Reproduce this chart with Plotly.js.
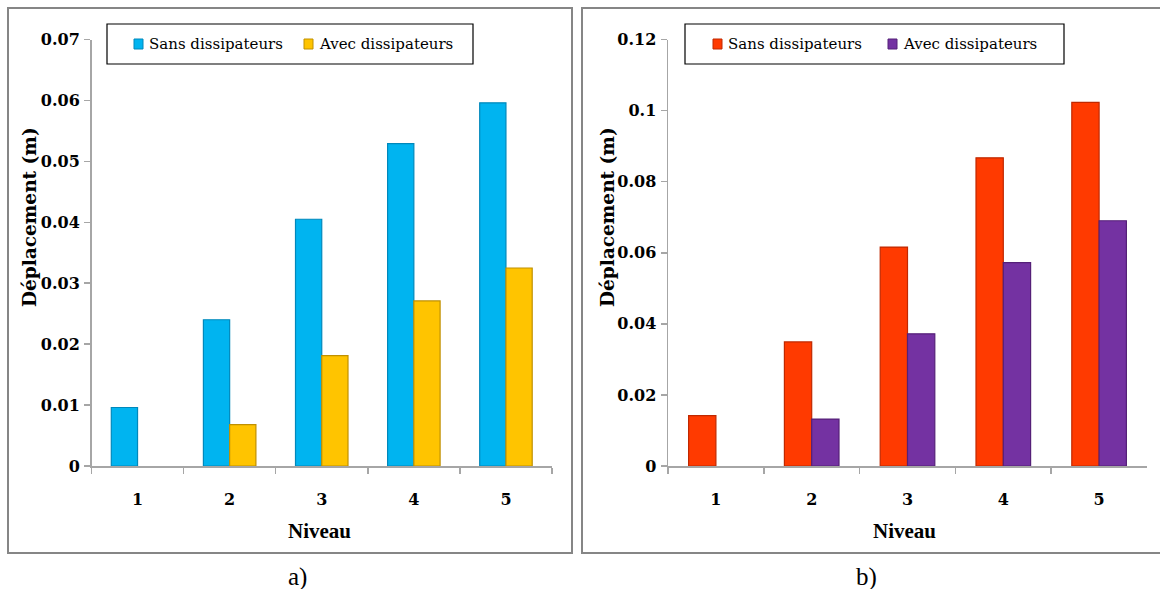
<!DOCTYPE html>
<html>
<head>
<meta charset="utf-8">
<script src="https://cdn.plot.ly/plotly-3.0.1.min.js"></script>
<style>html,body{margin:0;padding:0;background:#fff;}#chart{width:1160px;height:589px;}</style>
</head>
<body>
<div id="chart"></div>
<script>
const niveaux = ["1", "2", "3", "4", "5"];
const seriesNames = ["Sans dissipateurs", "Avec dissipateurs"];
const sansA = [0.0096, 0.0240, 0.0405, 0.0529, 0.0596];
const avecA = [null, 0.0068, 0.0181, 0.0271, 0.0325];
const sansB = [0.0142, 0.0349, 0.0616, 0.0867, 0.1023];
const avecB = [null, 0.0132, 0.0372, 0.0572, 0.0690];
const yTitle = "Déplacement (m)";
const xTitle = "Niveau";
const captions = ["a)", "b)"];

const W = 1160, H = 589;
const px = v => v / W;
const py = v => 1 - v / H;

const serif = "Liberation Serif";
const wideSerif = "DejaVu Serif";

function bar(x, y, name, color, edge, xa, ya) {
  return {
    type: "bar", x: x, y: y, name: name, xaxis: xa, yaxis: ya,
    marker: {color: color, line: {color: edge, width: 1.2}},
    showlegend: false, hoverinfo: "x+y"
  };
}

const traces = [
  bar(niveaux, sansA, seriesNames[0], "#00B4F0", "#0088BB", "x", "y"),
  bar(niveaux, avecA, seriesNames[1], "#FFC400", "#C09000", "x", "y"),
  bar(niveaux, sansB, seriesNames[0], "#FF3A00", "#C02800", "x2", "y2"),
  bar(niveaux, avecB, seriesNames[1], "#7432A2", "#552078", "x2", "y2")
];

const tickFont = {family: wideSerif, size: 16, color: "#000", weight: "bold"};

const xCommon = {
  type: "category", showline: true, linecolor: "#A6A6A6", linewidth: 1.5,
  ticks: "outside", tickson: "boundaries", ticklen: 6, tickcolor: "#A6A6A6", tickwidth: 1.5,
  showgrid: false, zeroline: false,
  tickfont: tickFont, ticklabelstandoff: 18
};
const yCommon = {
  showline: true, linecolor: "#A6A6A6", linewidth: 1.5,
  ticks: "outside", ticklen: 6, tickcolor: "#A6A6A6", tickwidth: 1.5,
  showgrid: false, zeroline: false,
  tickfont: tickFont, ticklabelstandoff: 1
};

const legendFont = {family: wideSerif, size: 15, color: "#000"};

const layout = {
  width: W, height: H, margin: {l: 0, r: 0, t: 0, b: 0},
  paper_bgcolor: "#fff", plot_bgcolor: "#fff",
  barmode: "group", bargap: 0.43, bargroupgap: 0,
  font: {family: serif, color: "#000"},
  xaxis: Object.assign({}, xCommon, {domain: [px(91.5), px(552)], anchor: "y"}),
  yaxis: Object.assign({}, yCommon, {domain: [py(466), py(39.5)], anchor: "x", range: [0, 0.07], dtick: 0.01}),
  xaxis2: Object.assign({}, xCommon, {domain: [px(668), px(1147)], anchor: "y2"}),
  yaxis2: Object.assign({}, yCommon, {domain: [py(466), py(39.5)], anchor: "x2", range: [0, 0.12], dtick: 0.02}),
  shapes: [
    {type: "rect", xref: "paper", yref: "paper", x0: px(8), x1: px(572), y0: py(553), y1: py(8),
     line: {color: "#868686", width: 2}},
    {type: "rect", xref: "paper", yref: "paper", x0: px(582), x1: px(1166), y0: py(553), y1: py(8),
     line: {color: "#868686", width: 2}},
    {type: "rect", xref: "paper", yref: "paper", x0: px(107), x1: px(473), y0: py(64), y1: py(24),
     line: {color: "#000", width: 1.2}, fillcolor: "#fff"},
    {type: "rect", xref: "paper", yref: "paper", x0: px(685), x1: px(1064), y0: py(64), y1: py(24),
     line: {color: "#000", width: 1.2}, fillcolor: "#fff"},
    {type: "rect", xref: "paper", yref: "paper", x0: px(134), x1: px(143), y0: py(49), y1: py(39),
     fillcolor: "#00B4F0", line: {color: "#0088BB", width: 1}},
    {type: "rect", xref: "paper", yref: "paper", x0: px(304), x1: px(313), y0: py(49), y1: py(39),
     fillcolor: "#FFC400", line: {color: "#C09000", width: 1}},
    {type: "rect", xref: "paper", yref: "paper", x0: px(713), x1: px(722), y0: py(49), y1: py(39),
     fillcolor: "#FF3A00", line: {color: "#C02800", width: 1}},
    {type: "rect", xref: "paper", yref: "paper", x0: px(888), x1: px(897), y0: py(49), y1: py(39),
     fillcolor: "#7432A2", line: {color: "#552078", width: 1}}
  ],
  annotations: [
    {xref: "paper", yref: "paper", x: px(147), y: py(44), xanchor: "left", yanchor: "middle", showarrow: false,
     text: seriesNames[0], font: legendFont},
    {xref: "paper", yref: "paper", x: px(317), y: py(44), xanchor: "left", yanchor: "middle", showarrow: false,
     text: seriesNames[1], font: legendFont},
    {xref: "paper", yref: "paper", x: px(726), y: py(44), xanchor: "left", yanchor: "middle", showarrow: false,
     text: seriesNames[0], font: legendFont},
    {xref: "paper", yref: "paper", x: px(901), y: py(44), xanchor: "left", yanchor: "middle", showarrow: false,
     text: seriesNames[1], font: legendFont},
    {xref: "paper", yref: "paper", x: px(29), y: py(217), xanchor: "center", yanchor: "middle", showarrow: false,
     textangle: -90, text: "<b>" + yTitle + "</b>", font: {family: wideSerif, size: 18.5, color: "#000"}},
    {xref: "paper", yref: "paper", x: px(607), y: py(217), xanchor: "center", yanchor: "middle", showarrow: false,
     textangle: -90, text: "<b>" + yTitle + "</b>", font: {family: wideSerif, size: 18.5, color: "#000"}},
    {xref: "paper", yref: "paper", x: px(319), y: py(531), xanchor: "center", yanchor: "middle", showarrow: false,
     text: "<b>" + xTitle + "</b>", font: {family: serif, size: 21, color: "#000"}},
    {xref: "paper", yref: "paper", x: px(904), y: py(531), xanchor: "center", yanchor: "middle", showarrow: false,
     text: "<b>" + xTitle + "</b>", font: {family: serif, size: 21, color: "#000"}},
    {xref: "paper", yref: "paper", x: px(297), y: py(577), xanchor: "center", yanchor: "middle", showarrow: false,
     text: captions[0], font: {family: serif, size: 25, color: "#000"}},
    {xref: "paper", yref: "paper", x: px(866), y: py(577), xanchor: "center", yanchor: "middle", showarrow: false,
     text: captions[1], font: {family: serif, size: 25, color: "#000"}}
  ]
};

Plotly.newPlot("chart", traces, layout, {displayModeBar: false, staticPlot: true});
</script>
</body>
</html>
